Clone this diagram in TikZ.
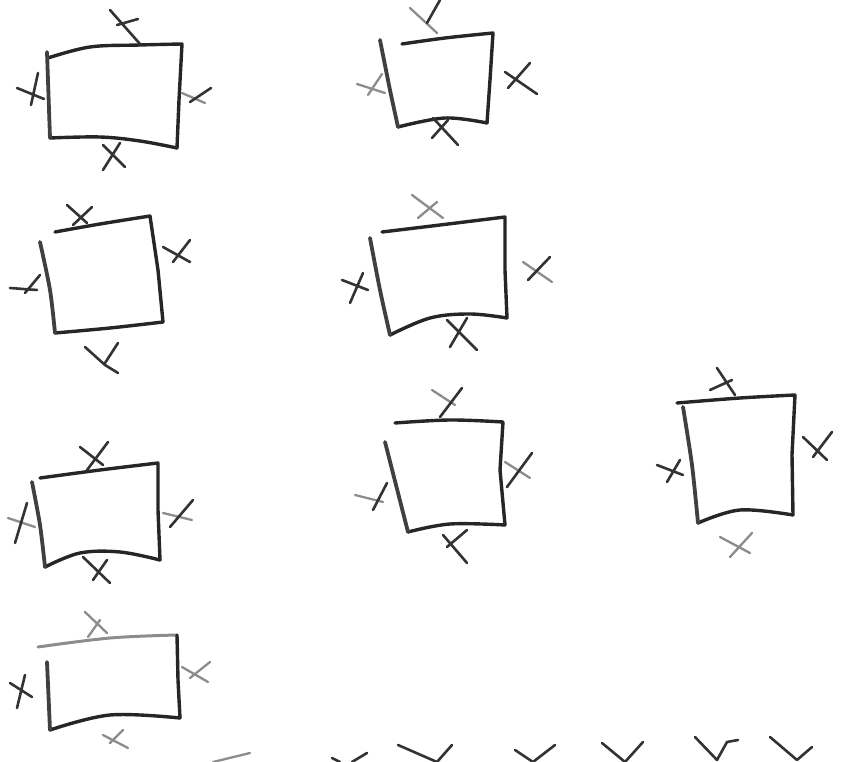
\documentclass[tikz,border=0pt]{standalone}
\usepackage{tikz}

\begin{document}
\begin{tikzpicture}[x=1pt, y=-1pt, line cap=round, line join=round,
	box/.style={line width=3.4pt, black!85},
	side/.style={line width=3.8pt, black!75},
	cross/.style={line width=2.6pt, black!80},
	faint/.style={line width=2.3pt, black!45}]

	\useasboundingbox (0,0) rectangle (841,762);

	% row 1, left
	\draw[box] plot[smooth, tension=.6] coordinates {(48,58) (90,47) (140,45) (182,44)}
		-- (179,100) -- (177,148);
	\draw[box] plot[smooth, tension=.6] coordinates {(50,138) (100,137) (140,141) (177,148)};
	\draw[side] (47,52) -- (50,138);
	\draw[cross] (110,10) -- (140,44) (117,25) -- (138,19);
	\draw[cross] (38,73) -- (31,105) (17,88) -- (44,99);
	\draw[faint] (182,93) -- (205,103); \draw[cross] (190,102) -- (211,88);
	\draw[cross] (103,145) -- (125,167) (120,143) -- (103,170);

	% row 1, middle
	\draw[box] plot[smooth, tension=.6] coordinates {(402,44) (445,38) (493,33)}
		-- (490,80) -- (487,123);
	\draw[box] plot[smooth, tension=.6] coordinates {(398,127) (445,118) (487,123)};
	\draw[side] plot[smooth] coordinates {(380,40) (390,90) (398,127)};
	\draw[faint] (410,8) -- (437,33); \draw[cross] (440,0) -- (427,23);
	\draw[faint] (357,84) -- (385,93) (382,74) -- (368,95);
	\draw[cross] (505,72) -- (537,94) (530,63) -- (508,88);
	\draw[cross] (433,118) -- (458,145) (448,120) -- (432,138);

	% row 2, left
	\draw[box] plot[smooth, tension=.6] coordinates {(55,232) (100,224) (150,216)}
		-- (158,270) -- (163,322);
	\draw[box] plot[smooth, tension=.6] coordinates {(55,333) (110,328) (163,322)};
	\draw[side] plot[smooth] coordinates {(40,242) (50,290) (55,333)};
	\draw[cross] (67,205) -- (87,223) (92,207) -- (73,225);
	\draw[cross] (163,247) -- (190,262) (190,240) -- (173,262);
	\draw[cross] (10,288) -- (37,290) (40,275) -- (25,293);
	\draw[cross] (85,347) -- (105,365) -- (118,373) (118,343) -- (105,363);

	% row 2, middle
	\draw[box] plot[smooth, tension=.6] coordinates {(382,232) (440,225) (505,217)}
		-- (505,270) -- (507,318);
	\draw[box] plot[smooth, tension=.6] coordinates {(390,335) (430,318) (470,314) (507,318)};
	\draw[side] plot[smooth] coordinates {(370,238) (380,290) (390,335)};
	\draw[faint] (412,195) -- (443,218) (437,202) -- (418,218);
	\draw[cross] (342,280) -- (368,290) (363,273) -- (350,303);
	\draw[faint] (523,262) -- (552,282); \draw[cross] (550,257) -- (528,280);
	\draw[cross] (447,320) -- (477,350) (467,318) -- (450,347);

	% row 3, left
	\draw[box] plot[smooth, tension=.6] coordinates {(40,478) (100,470) (158,463)}
		-- (158,510) -- (160,560);
	\draw[box] plot[smooth, tension=.6] coordinates {(45,567) (80,553) (120,552) (160,560)};
	\draw[side] plot[smooth] coordinates {(32,482) (40,525) (45,567)};
	\draw[cross] (80,447) -- (103,465) (108,442) -- (87,470);
	\draw[faint] (8,518) -- (35,527); \draw[cross] (27,503) -- (15,543);
	\draw[faint] (163,513) -- (192,520); \draw[cross] (193,500) -- (170,527);
	\draw[cross] (83,557) -- (110,583) (107,560) -- (93,580);

	% row 3, middle
	\draw[box] plot[smooth, tension=.6] coordinates {(395,423) (450,420) (503,422)}
		-- (500,470) -- (505,525);
	\draw[box] plot[smooth, tension=.6] coordinates {(408,532) (450,524) (505,525)};
	\draw[side] plot[smooth] coordinates {(385,442) (396,485) (408,532)};
	\draw[faint] (432,390) -- (455,405); \draw[cross] (462,388) -- (440,417);
	\draw[faint] (355,495) -- (383,502); \draw[cross] (387,483) -- (373,510);
	\draw[faint] (505,462) -- (530,478); \draw[cross] (532,453) -- (507,487);
	\draw[cross] (443,535) -- (467,563) (467,530) -- (447,547);

	% row 3, right
	\draw[box] plot[smooth, tension=.6] coordinates {(677,403) (740,398) (795,395)}
		-- (792,455) -- (793,515);
	\draw[box] plot[smooth, tension=.6] coordinates {(698,523) (740,510) (793,515)};
	\draw[side] plot[smooth] coordinates {(683,407) (692,465) (698,523)};
	\draw[cross] (710,390) -- (732,380) (717,368) -- (735,395);
	\draw[cross] (657,465) -- (683,475) (680,460) -- (667,482);
	\draw[cross] (803,437) -- (827,460) (832,432) -- (813,457);
	\draw[faint] (720,537) -- (750,553) (752,533) -- (730,557);

	% row 4, left
	\draw[faint, line width=3pt] plot[smooth, tension=.6] coordinates {(38,647) (110,638) (177,635)};
	\draw[box] (177,635) -- (178,680) -- (180,718);
	\draw[box] plot[smooth, tension=.6] coordinates {(50,730) (110,715) (180,718)};
	\draw[side] (47,662) -- (50,730);
	\draw[faint] (85,612) -- (107,633) (100,620) -- (88,637);
	\draw[cross] (10,683) -- (32,697) (25,675) -- (17,708);
	\draw[faint] (182,667) -- (208,682) (210,662) -- (190,678);
	\draw[faint] (103,735) -- (128,748) (123,730) -- (110,743);

	% bottom row
	\draw[faint] (213,762) -- (250,753);
	\draw[cross] (332,758) -- (340,762) (367,753) -- (352,762);
	\draw[cross] (398,745) -- (437,762) -- (452,745);
	\draw[cross] (515,750) -- (533,762) -- (555,745);
	\draw[cross] (602,743) -- (625,762) -- (643,742);
	\draw[cross] (695,737) -- (717,760) -- (727,742) -- (738,740);
	\draw[cross] (770,737) -- (797,760) -- (812,747);

\end{tikzpicture}
\end{document}
